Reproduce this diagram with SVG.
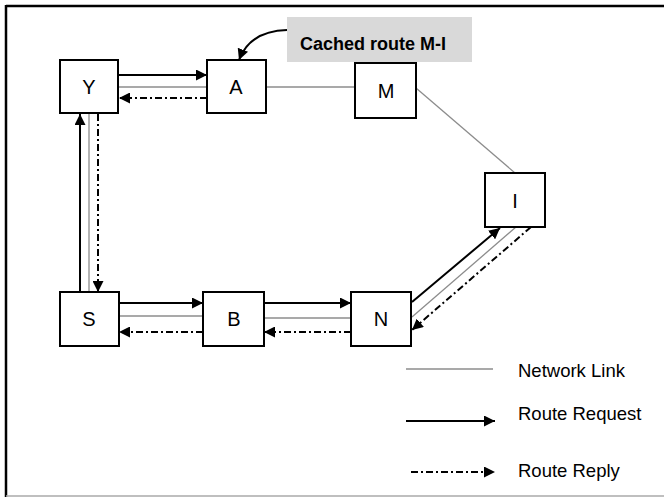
<svg xmlns="http://www.w3.org/2000/svg" width="664" height="497" viewBox="0 0 664 497">
<defs>
<marker id="ah" markerWidth="12" markerHeight="11" refX="11" refY="5.5" orient="auto" markerUnits="userSpaceOnUse">
<path d="M0,0 L11,5.5 L0,11 z" fill="#000"/>
</marker>
<style>
.box{fill:#fff;stroke:#000;stroke-width:2}
.lbl{font-family:"Liberation Sans",Arial,sans-serif;font-size:20px;fill:#000;text-anchor:middle}
.leg{font-family:"Liberation Sans",Arial,sans-serif;font-size:18.5px;fill:#000}
.link{stroke:#8c8c8c;stroke-width:1.3;fill:none}
.req{stroke:#000;stroke-width:2;fill:none;marker-end:url(#ah)}
.rep{stroke:#000;stroke-width:2;fill:none;stroke-dasharray:7 3 2 3;marker-end:url(#ah)}
</style>
</defs>
<rect x="0" y="0" width="664" height="497" fill="#fff"/>
<line x1="6" y1="6" x2="664" y2="6" stroke="#000" stroke-width="2.5"/>
<line x1="6" y1="5" x2="6" y2="497" stroke="#000" stroke-width="2.5"/>
<line x1="6" y1="496" x2="664" y2="496" stroke="#aaa" stroke-width="1.5"/>

<g id="connectors">
<line class="link" x1="118" y1="87" x2="207" y2="87"/>
<line class="link" x1="266" y1="87" x2="355" y2="87"/>
<line class="link" x1="416" y1="88" x2="515" y2="173"/>
<line class="link" x1="89" y1="113" x2="89" y2="292"/>
<line class="link" x1="119" y1="316" x2="203" y2="316"/>
<line class="link" x1="264" y1="318" x2="351" y2="318"/>
<line class="link" x1="412" y1="317" x2="516" y2="227"/>
<line class="req" x1="119" y1="75" x2="207" y2="75"/>
<line class="req" x1="80" y1="292" x2="80" y2="114"/>
<line class="req" x1="119" y1="303" x2="203" y2="303"/>
<line class="req" x1="264" y1="303" x2="351" y2="303"/>
<line class="req" x1="412" y1="302" x2="500" y2="228"/>
<line class="rep" x1="207" y1="98" x2="119" y2="98"/>
<line class="rep" x1="98" y1="114" x2="98" y2="292"/>
<line class="rep" x1="203" y1="332" x2="119" y2="332"/>
<line class="rep" x1="351" y1="332" x2="264" y2="332"/>
<line class="rep" x1="531" y1="227" x2="412" y2="330"/>
<path d="M287,30 Q250,31 239,60" stroke="#000" stroke-width="2" fill="none" marker-end="url(#ah)"/>
</g>

<g id="cached-label">
<rect x="287" y="17" width="185" height="45" fill="#d9d9d9"/>
<text x="373" y="50" font-family="'Liberation Sans',Arial,sans-serif" font-size="18" font-weight="bold" text-anchor="middle">Cached route M-I</text>
</g>

<g id="node-Y"><rect class="box" x="60" y="60" width="58" height="53"/><text class="lbl" x="89" y="94">Y</text></g>
<g id="node-A"><rect class="box" x="207" y="60" width="59" height="53"/><text class="lbl" x="236" y="94">A</text></g>
<g id="node-M"><rect class="box" x="355" y="63" width="61" height="55"/><text class="lbl" x="386" y="98">M</text></g>
<g id="node-I"><rect class="box" x="485" y="173" width="60" height="54"/><text class="lbl" x="515" y="208">I</text></g>
<g id="node-S"><rect class="box" x="60" y="292" width="59" height="54"/><text class="lbl" x="89" y="326">S</text></g>
<g id="node-B"><rect class="box" x="203" y="292" width="61" height="54"/><text class="lbl" x="234" y="326">B</text></g>
<g id="node-N"><rect class="box" x="351" y="292" width="60" height="54"/><text class="lbl" x="381" y="326">N</text></g>

<g id="legend">
<line class="link" x1="406" y1="369" x2="493" y2="369"/>
<text class="leg" x="518" y="377">Network Link</text>
<line class="req" x1="406" y1="421" x2="495" y2="421"/>
<text class="leg" x="518" y="420">Route Request</text>
<line class="rep" x1="411" y1="472" x2="495" y2="472"/>
<text class="leg" x="518" y="477">Route Reply</text>
</g>
</svg>
